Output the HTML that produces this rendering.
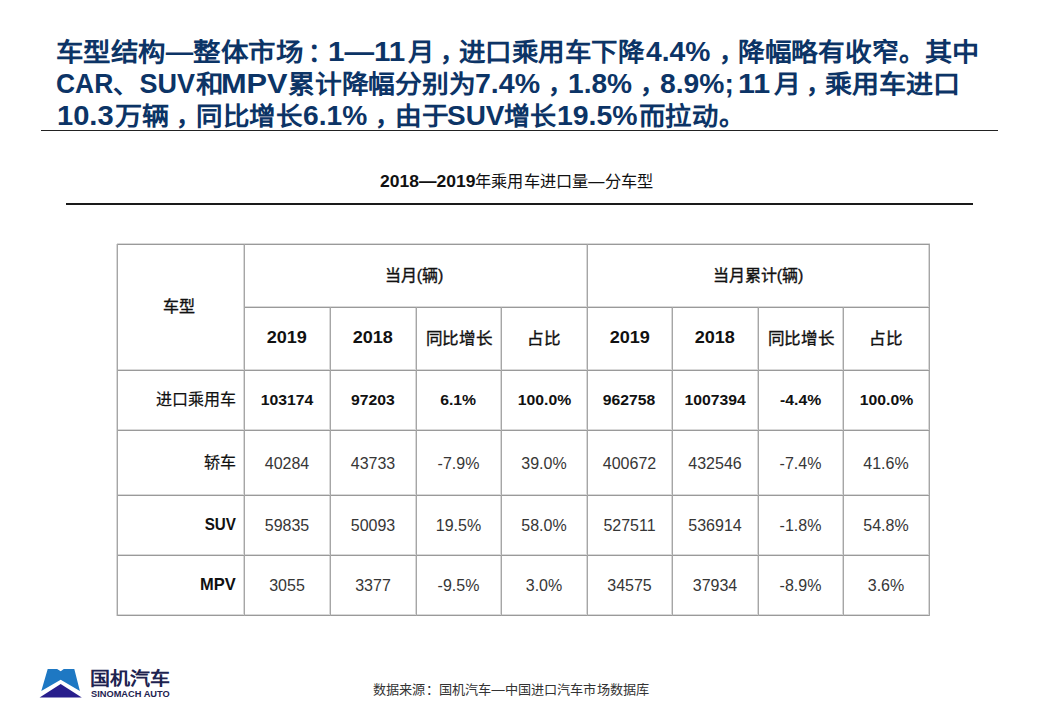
<!DOCTYPE html>
<html lang="zh-CN"><head><meta charset="utf-8">
<style>
html,body{margin:0;padding:0;background:#fff;}
body{width:1040px;height:720px;position:relative;overflow:hidden;font-family:"Liberation Sans",sans-serif;}
.ln{position:absolute;}
.c{position:absolute;white-space:nowrap;color:#111;font-size:16px;}
.b{font-weight:bold;}
.hd{font-weight:500;-webkit-text-stroke:0.35px #111;}
.hs{font-size:16.5px;}
.hb{font-weight:bold;font-size:16px;}
.lbl{font-weight:500;-webkit-text-stroke:0.2px #111;}
.lblb{font-weight:bold;font-size:16px;}
.lblb2{font-weight:bold;font-size:17px;}
.bv{font-weight:bold;font-size:15px;}
.nv{font-size:16px;color:#363636;}
.t{position:absolute;white-space:nowrap;font-weight:bold;color:#0c3466;line-height:32px;transform-origin:0 0;}
</style></head><body>
<span class="t" style="left:55.60px;top:36px;font-size:25px;transform:scaleX(1.0987)">车型结构—整体市场</span>
<span class="t" style="left:307.90px;top:36px;font-size:25px">：</span>
<span class="t" style="left:328.21px;top:36px;font-size:27px;transform:scaleX(1.0956)">1—11</span>
<span class="t" style="left:408.30px;top:36px;font-size:25px;transform:scaleX(1.0524)">月</span>
<span class="t" style="left:439.90px;top:36px;font-size:25px">，</span>
<span class="t" style="left:459.14px;top:36px;font-size:25px;transform:scaleX(1.0598)">进口乘用车下降</span>
<span class="t" style="left:646.20px;top:36px;font-size:27px;transform:scaleX(1.0459)">4.4%</span>
<span class="t" style="left:718.50px;top:36px;font-size:25px">，</span>
<span class="t" style="left:738.13px;top:36px;font-size:25px;transform:scaleX(1.0682)">降幅略有收窄</span>
<span class="t" style="left:899.00px;top:36px;font-size:25px">。</span>
<span class="t" style="left:924.51px;top:36px;font-size:25px;transform:scaleX(1.0872)">其中</span>
<span class="t" style="left:55.72px;top:68px;font-size:27px;transform:scaleX(0.9789)">CAR</span>
<span class="t" style="left:113.00px;top:68px;font-size:25px">、</span>
<span class="t" style="left:139.60px;top:68px;font-size:27px">SUV</span>
<span class="t" style="left:196.20px;top:68px;font-size:25px;transform:scaleX(1.1000)">和</span>
<span class="t" style="left:220.92px;top:68px;font-size:27px;transform:scaleX(1.1375)">MPV</span>
<span class="t" style="left:288.33px;top:68px;font-size:25px;transform:scaleX(1.0721)">累计降幅分别为</span>
<span class="t" style="left:474.94px;top:68px;font-size:27px;transform:scaleX(1.0567)">7.4%</span>
<span class="t" style="left:548.00px;top:68px;font-size:25px">，</span>
<span class="t" style="left:568.02px;top:68px;font-size:27px;transform:scaleX(1.0407)">1.8%</span>
<span class="t" style="left:640.00px;top:68px;font-size:25px">，</span>
<span class="t" style="left:660.15px;top:68px;font-size:27px;transform:scaleX(1.0463)">8.9%;</span>
<span class="t" style="left:738.35px;top:68px;font-size:27px;transform:scaleX(1.1269)">11</span>
<span class="t" style="left:773.75px;top:68px;font-size:25px;transform:scaleX(1.0738)">月</span>
<span class="t" style="left:805.80px;top:68px;font-size:25px">，</span>
<span class="t" style="left:824.92px;top:68px;font-size:25px;transform:scaleX(1.0811)">乘用车进口</span>
<span class="t" style="left:57.04px;top:99.5px;font-size:27px;transform:scaleX(1.0780)">10.3</span>
<span class="t" style="left:115.40px;top:99.5px;font-size:25px;transform:scaleX(1.0837)">万辆</span>
<span class="t" style="left:176.20px;top:99.5px;font-size:25px">，</span>
<span class="t" style="left:195.98px;top:99.5px;font-size:25px;transform:scaleX(1.0612)">同比增长</span>
<span class="t" style="left:303.06px;top:99.5px;font-size:27px;transform:scaleX(1.0433)">6.1%</span>
<span class="t" style="left:374.80px;top:99.5px;font-size:25px">，</span>
<span class="t" style="left:395.26px;top:99.5px;font-size:25px;transform:scaleX(1.0681)">由于</span>
<span class="t" style="left:447.06px;top:99.5px;font-size:27px;transform:scaleX(1.0352)">SUV</span>
<span class="t" style="left:504.15px;top:99.5px;font-size:25px;transform:scaleX(1.0469)">增长</span>
<span class="t" style="left:557.09px;top:99.5px;font-size:27px;transform:scaleX(1.0527)">19.5%</span>
<span class="t" style="left:638.95px;top:99.5px;font-size:25px;transform:scaleX(1.0548)">而拉动</span>
<span class="t" style="left:718.80px;top:99.5px;font-size:25px">。</span>
<div class="ln" style="left:41px;top:130px;width:957px;height:1px;background:#222"></div>
<div class="c" style="left:380.1px;top:170px;line-height:24px;font-size:16px;font-weight:bold;transform:scaleX(1.094);transform-origin:0 0">2018—2019</div>
<div class="c" style="left:475.2px;top:170px;line-height:24px;font-size:16px;font-weight:500;transform:scaleX(1.012);transform-origin:0 0">年乘用车进口量—分车型</div>
<div class="ln" style="left:66px;top:203px;width:907px;height:2px;background:#1a1a1a"></div>
<div class="ln" style="left:117px;top:243px;width:813px;height:1px;background:#d9d9d9"></div>
<div class="ln" style="left:244px;top:306px;width:686px;height:1px;background:#d9d9d9"></div>
<div class="ln" style="left:117px;top:369px;width:813px;height:1px;background:#d9d9d9"></div>
<div class="ln" style="left:117px;top:429px;width:813px;height:1px;background:#d9d9d9"></div>
<div class="ln" style="left:117px;top:494px;width:813px;height:1px;background:#d9d9d9"></div>
<div class="ln" style="left:117px;top:554px;width:813px;height:1px;background:#d9d9d9"></div>
<div class="ln" style="left:117px;top:614px;width:813px;height:1px;background:#d9d9d9"></div>
<div class="ln" style="left:116px;top:244px;width:1px;height:372px;background:#d9d9d9"></div>
<div class="ln" style="left:243px;top:244px;width:1px;height:372px;background:#d9d9d9"></div>
<div class="ln" style="left:329px;top:307px;width:1px;height:309px;background:#d9d9d9"></div>
<div class="ln" style="left:415px;top:307px;width:1px;height:309px;background:#d9d9d9"></div>
<div class="ln" style="left:500px;top:307px;width:1px;height:309px;background:#d9d9d9"></div>
<div class="ln" style="left:586px;top:244px;width:1px;height:372px;background:#d9d9d9"></div>
<div class="ln" style="left:671px;top:307px;width:1px;height:309px;background:#d9d9d9"></div>
<div class="ln" style="left:757px;top:307px;width:1px;height:309px;background:#d9d9d9"></div>
<div class="ln" style="left:842px;top:307px;width:1px;height:309px;background:#d9d9d9"></div>
<div class="ln" style="left:928px;top:244px;width:1px;height:372px;background:#d9d9d9"></div>
<div class="ln" style="left:117px;top:244px;width:813px;height:1px;background:#9a9a9a"></div>
<div class="ln" style="left:244px;top:307px;width:686px;height:1px;background:#9a9a9a"></div>
<div class="ln" style="left:117px;top:370px;width:813px;height:1px;background:#9a9a9a"></div>
<div class="ln" style="left:117px;top:430px;width:813px;height:1px;background:#9a9a9a"></div>
<div class="ln" style="left:117px;top:495px;width:813px;height:1px;background:#9a9a9a"></div>
<div class="ln" style="left:117px;top:555px;width:813px;height:1px;background:#9a9a9a"></div>
<div class="ln" style="left:117px;top:615px;width:813px;height:1px;background:#9a9a9a"></div>
<div class="ln" style="left:117px;top:244px;width:1px;height:372px;background:#a6a6a6"></div>
<div class="ln" style="left:244px;top:244px;width:1px;height:372px;background:#a6a6a6"></div>
<div class="ln" style="left:330px;top:307px;width:1px;height:309px;background:#a6a6a6"></div>
<div class="ln" style="left:416px;top:307px;width:1px;height:309px;background:#a6a6a6"></div>
<div class="ln" style="left:501px;top:307px;width:1px;height:309px;background:#a6a6a6"></div>
<div class="ln" style="left:587px;top:244px;width:1px;height:372px;background:#a6a6a6"></div>
<div class="ln" style="left:672px;top:307px;width:1px;height:309px;background:#a6a6a6"></div>
<div class="ln" style="left:758px;top:307px;width:1px;height:309px;background:#a6a6a6"></div>
<div class="ln" style="left:843px;top:307px;width:1px;height:309px;background:#a6a6a6"></div>
<div class="ln" style="left:929px;top:244px;width:1px;height:372px;background:#a6a6a6"></div>
<div class="c hd" style="left:115.5px;top:244px;width:127px;height:126px;line-height:126px;text-align:center;">车型</div>
<div class="c hd" style="left:242.5px;top:244px;width:343px;height:63px;line-height:63px;text-align:center;">当月(辆)</div>
<div class="c hd" style="left:587px;top:244px;width:342px;height:63px;line-height:63px;text-align:center;">当月累计(辆)</div>
<div class="c hb" style="left:244px;top:306px;width:86px;height:63px;line-height:63px;text-align:center;"><span style="display:inline-block;transform:scaleX(1.13);transform-origin:center">2019</span></div>
<div class="c hb" style="left:330px;top:306px;width:86px;height:63px;line-height:63px;text-align:center;"><span style="display:inline-block;transform:scaleX(1.13);transform-origin:center">2018</span></div>
<div class="c hd" style="left:416px;top:307px;width:85px;height:63px;line-height:63px;text-align:center;"><span style="display:inline-block;transform:scaleX(1.035);transform-origin:center">同比增长</span></div>
<div class="c hd" style="left:501px;top:307px;width:86px;height:63px;line-height:63px;text-align:center;"><span style="display:inline-block;transform:scaleX(1.035);transform-origin:center">占比</span></div>
<div class="c hb" style="left:587px;top:306px;width:85px;height:63px;line-height:63px;text-align:center;"><span style="display:inline-block;transform:scaleX(1.13);transform-origin:center">2019</span></div>
<div class="c hb" style="left:672px;top:306px;width:86px;height:63px;line-height:63px;text-align:center;"><span style="display:inline-block;transform:scaleX(1.13);transform-origin:center">2018</span></div>
<div class="c hd" style="left:758px;top:307px;width:85px;height:63px;line-height:63px;text-align:center;"><span style="display:inline-block;transform:scaleX(1.035);transform-origin:center">同比增长</span></div>
<div class="c hd" style="left:843px;top:307px;width:86px;height:63px;line-height:63px;text-align:center;"><span style="display:inline-block;transform:scaleX(1.035);transform-origin:center">占比</span></div>
<div class="c lbl" style="left:117px;top:370px;width:127px;height:60px;line-height:60px;text-align:right;padding-right:8px;box-sizing:border-box;">进口乘用车</div>
<div class="c bv" style="left:244px;top:370px;width:86px;height:60px;line-height:60px;text-align:center;"><span style="display:inline-block;transform:scaleX(1.05);transform-origin:center">103174</span></div>
<div class="c bv" style="left:330px;top:370px;width:86px;height:60px;line-height:60px;text-align:center;"><span style="display:inline-block;transform:scaleX(1.05);transform-origin:center">97203</span></div>
<div class="c bv" style="left:416px;top:370px;width:85px;height:60px;line-height:60px;text-align:center;"><span style="display:inline-block;transform:scaleX(1.05);transform-origin:center">6.1%</span></div>
<div class="c bv" style="left:501px;top:370px;width:86px;height:60px;line-height:60px;text-align:center;"><span style="display:inline-block;transform:scaleX(1.05);transform-origin:center">100.0%</span></div>
<div class="c bv" style="left:587px;top:370px;width:85px;height:60px;line-height:60px;text-align:center;"><span style="display:inline-block;transform:scaleX(1.05);transform-origin:center">962758</span></div>
<div class="c bv" style="left:672px;top:370px;width:86px;height:60px;line-height:60px;text-align:center;"><span style="display:inline-block;transform:scaleX(1.05);transform-origin:center">1007394</span></div>
<div class="c bv" style="left:758px;top:370px;width:85px;height:60px;line-height:60px;text-align:center;"><span style="display:inline-block;transform:scaleX(1.05);transform-origin:center">-4.4%</span></div>
<div class="c bv" style="left:843px;top:370px;width:86px;height:60px;line-height:60px;text-align:center;"><span style="display:inline-block;transform:scaleX(1.05);transform-origin:center">100.0%</span></div>
<div class="c lbl" style="left:117px;top:430px;width:127px;height:65px;line-height:65px;text-align:right;padding-right:8px;box-sizing:border-box;">轿车</div>
<div class="c nv" style="left:244px;top:431px;width:86px;height:65px;line-height:65px;text-align:center;">40284</div>
<div class="c nv" style="left:330px;top:431px;width:86px;height:65px;line-height:65px;text-align:center;">43733</div>
<div class="c nv" style="left:416px;top:431px;width:85px;height:65px;line-height:65px;text-align:center;">-7.9%</div>
<div class="c nv" style="left:501px;top:431px;width:86px;height:65px;line-height:65px;text-align:center;">39.0%</div>
<div class="c nv" style="left:587px;top:431px;width:85px;height:65px;line-height:65px;text-align:center;">400672</div>
<div class="c nv" style="left:672px;top:431px;width:86px;height:65px;line-height:65px;text-align:center;">432546</div>
<div class="c nv" style="left:758px;top:431px;width:85px;height:65px;line-height:65px;text-align:center;">-7.4%</div>
<div class="c nv" style="left:843px;top:431px;width:86px;height:65px;line-height:65px;text-align:center;">41.6%</div>
<div class="c lblb" style="left:117px;top:495px;width:127px;height:60px;line-height:60px;text-align:right;padding-right:8.5px;box-sizing:border-box;"><span style="display:inline-block;transform:scaleX(0.95);transform-origin:right">SUV</span></div>
<div class="c nv" style="left:244px;top:496px;width:86px;height:60px;line-height:60px;text-align:center;">59835</div>
<div class="c nv" style="left:330px;top:496px;width:86px;height:60px;line-height:60px;text-align:center;">50093</div>
<div class="c nv" style="left:416px;top:496px;width:85px;height:60px;line-height:60px;text-align:center;">19.5%</div>
<div class="c nv" style="left:501px;top:496px;width:86px;height:60px;line-height:60px;text-align:center;">58.0%</div>
<div class="c nv" style="left:587px;top:496px;width:85px;height:60px;line-height:60px;text-align:center;">527511</div>
<div class="c nv" style="left:672px;top:496px;width:86px;height:60px;line-height:60px;text-align:center;">536914</div>
<div class="c nv" style="left:758px;top:496px;width:85px;height:60px;line-height:60px;text-align:center;">-1.8%</div>
<div class="c nv" style="left:843px;top:496px;width:86px;height:60px;line-height:60px;text-align:center;">54.8%</div>
<div class="c lblb2" style="left:117px;top:555px;width:127px;height:60px;line-height:60px;text-align:right;padding-right:8.5px;box-sizing:border-box;"><span style="display:inline-block;transform:scaleX(0.97);transform-origin:right">MPV</span></div>
<div class="c nv" style="left:244px;top:556px;width:86px;height:60px;line-height:60px;text-align:center;">3055</div>
<div class="c nv" style="left:330px;top:556px;width:86px;height:60px;line-height:60px;text-align:center;">3377</div>
<div class="c nv" style="left:416px;top:556px;width:85px;height:60px;line-height:60px;text-align:center;">-9.5%</div>
<div class="c nv" style="left:501px;top:556px;width:86px;height:60px;line-height:60px;text-align:center;">3.0%</div>
<div class="c nv" style="left:587px;top:556px;width:85px;height:60px;line-height:60px;text-align:center;">34575</div>
<div class="c nv" style="left:672px;top:556px;width:86px;height:60px;line-height:60px;text-align:center;">37934</div>
<div class="c nv" style="left:758px;top:556px;width:85px;height:60px;line-height:60px;text-align:center;">-8.9%</div>
<div class="c nv" style="left:843px;top:556px;width:86px;height:60px;line-height:60px;text-align:center;">3.6%</div>
<svg style="position:absolute;left:0;top:0" width="1040" height="720">
<polygon points="47.7,669 57.1,669 60.7,671.2 63.8,669 74.3,669 79.9,690.9 60.7,679.8 41.3,690.9" fill="#1e78c3"/>
<polygon points="60.7,683.9 39.6,697.6 81.8,697.6" fill="#281e8c"/>
</svg>
<div class="c" style="left:90px;top:667px;font-size:18px;line-height:24px;font-weight:bold;color:#1e2350;transform:scaleX(1.11);transform-origin:0 0">国机汽车</div>
<div class="c" style="left:91px;top:689px;font-size:8.5px;line-height:10px;font-weight:bold;color:#1e2350;transform:scaleX(1.09);transform-origin:0 0">SINOMACH AUTO</div>
<div class="c" style="left:372.5px;top:681px;font-size:13px;line-height:17px;color:#333;transform:scaleX(1.012);transform-origin:0 0">数据来源：国机汽车—中国进口汽车市场数据库</div>
</body></html>
